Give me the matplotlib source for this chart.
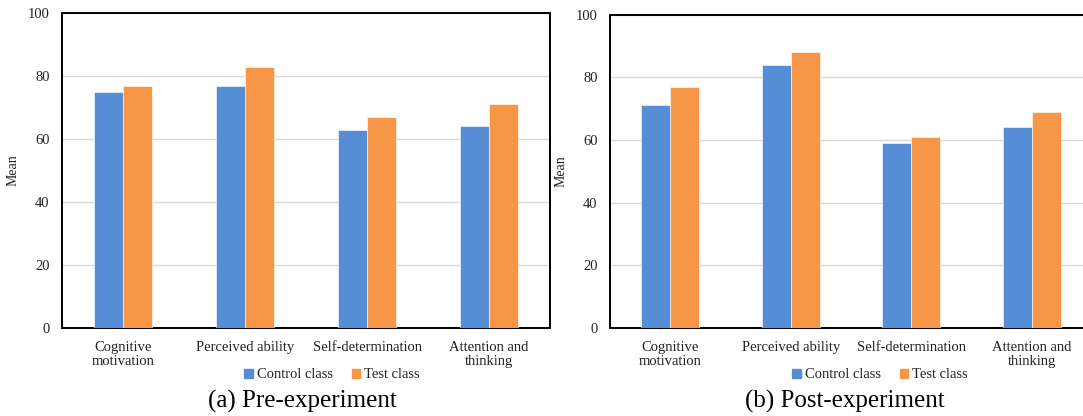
import numpy as np
import matplotlib
matplotlib.use("Agg")
import matplotlib.pyplot as plt
from matplotlib.patches import Patch

categories = ["Cognitive\nmotivation", "Perceived ability", "Self-determination", "Attention and\nthinking"]
pre_control = [75, 77, 63, 64]
pre_test = [77, 83, 67, 71]
post_control = [71, 84, 59, 64]
post_test = [77, 88, 61, 69]
captions = ["(a) Pre-experiment", "(b) Post-experiment"]

blue = "#558ED5"
orange = "#F79646"
serif = "Liberation Serif"

fig = plt.figure(figsize=(10.83, 4.16), dpi=100)

panels = [
    ([62 / 1083, 0.2115, 488 / 1083, 0.757], pre_control, pre_test, 332, 302),
    ([610 / 1083, 0.2115, 482 / 1083, 0.7535], post_control, post_test, 880, 845),
]

x = np.arange(len(categories))
w = 0.24

for i, (pos, ctrl, test, leg_x, cap_x) in enumerate(panels):
    ax = fig.add_axes(pos)
    ax.bar(x - w / 2, ctrl, w, color=blue, edgecolor="white", linewidth=0.4, zorder=3)
    ax.bar(x + w / 2, test, w, color=orange, edgecolor="white", linewidth=0.4, zorder=3)
    ax.set_xlim(-0.5, 3.5)
    ax.set_ylim(0, 100)
    ax.set_yticks([0, 20, 40, 60, 80, 100])
    ax.set_xticks(x)
    ax.set_xticklabels(categories, fontfamily=serif, fontsize=10.5, linespacing=1.1)
    for lab in ax.get_yticklabels():
        lab.set_fontfamily(serif)
        lab.set_fontsize(10.5)
    ax.tick_params(axis="both", length=0, pad=9, colors="#222222")
    ax.yaxis.grid(True, color="#d9d9d9", linewidth=1, zorder=0)
    for s in ax.spines.values():
        s.set_linewidth(1.4)
        s.set_color("black")
    ax.set_ylabel("Mean", fontfamily=serif, fontsize=10, labelpad=6, color="#222222")

    handles = [Patch(color=blue, label="Control class"), Patch(color=orange, label="Test class")]
    fig.legend(handles=handles, loc="center", bbox_to_anchor=(leg_x / 1083, 1 - 375 / 416),
               ncol=2, frameon=False, prop={"family": serif, "size": 10.5},
               handlelength=0.6, handleheight=0.6, handletextpad=0.25, columnspacing=1.3,
               labelcolor="#222222")
    fig.text(cap_x / 1083, 1 - 401 / 416, captions[i], ha="center", va="center",
             fontfamily=serif, fontsize=18)

fig.savefig("out.png", dpi=100)
